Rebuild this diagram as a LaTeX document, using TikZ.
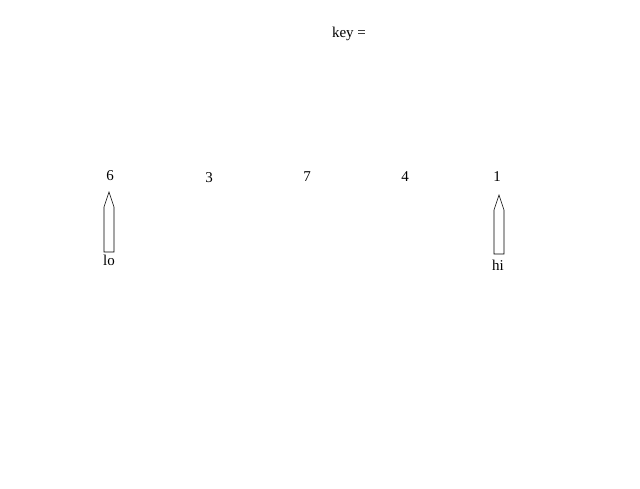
\documentclass[tikz,border=0pt]{standalone}
\usepackage{fontspec}
\setmainfont{Liberation Serif}
\usepackage{xcolor}

\begin{document}
\begin{tikzpicture}[x=1pt,y=-1pt,font=\fontsize{15}{17}\selectfont]
\useasboundingbox (0,0) rectangle (640,489);
\node (key) at (349,34) {key =};
\node (a0) at (110,176) {6};
\node (a1) at (209,178) {3};
\node (a2) at (307,177) {7};
\node (a3) at (405,177) {4};
\node (a4) at (497,177) {1};
\draw[line width=0.6pt] (104,252)--(104,207)--(109,192)--(114,207)--(114,252)--cycle;
\draw[line width=0.6pt] (494,254)--(494,210)--(499,195)--(504,210)--(504,254)--cycle;
\node (lo) at (109,260) {lo};
\node (hi) at (498,265) {hi};
\end{tikzpicture}
\end{document}
